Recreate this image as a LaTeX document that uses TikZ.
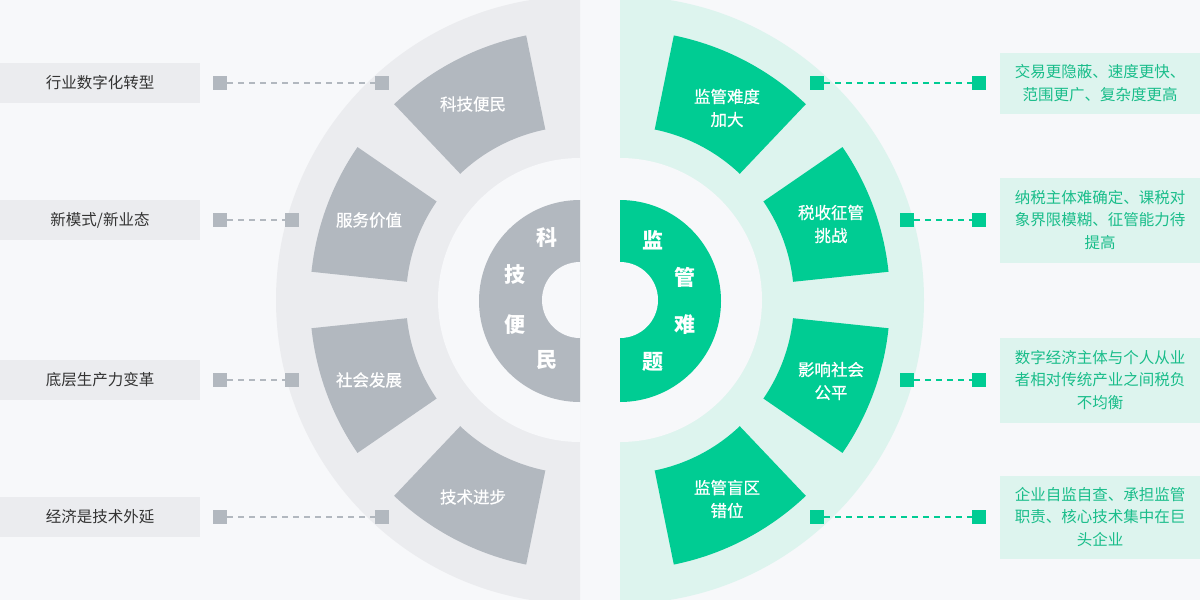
\documentclass[tikz,border=0pt]{standalone}
\usepackage{fontspec}
\setmainfont{Noto Sans CJK SC}
\newfontfamily\medfont[FakeBold=0.7]{Noto Sans CJK SC}
\definecolor{bg}{HTML}{F7F8FA}
\definecolor{gdisc}{HTML}{EBECEF}
\definecolor{gseg}{HTML}{B2B8BF}
\definecolor{grn}{HTML}{00CC93}
\definecolor{lgrn}{HTML}{DDF4EE}
\definecolor{gtext}{HTML}{333333}
\definecolor{gntext}{HTML}{19BD8A}
\newcommand{\annsec}[4]{% style, center, a1, a2 (tikz angles, y flipped)
  \fill[#1, shift={#2}] (#3:270) arc[start angle=#3, end angle=#4, radius=270]
     -- (#4:174) arc[start angle=#4, end angle=#3, radius=174] -- cycle;}
\begin{document}
\begin{tikzpicture}[x=1pt,y=-1pt,
  segtext/.style={text=white, font=\medfont\fontsize{16.5}{23}\selectfont, align=center, inner sep=0pt},
  bigchar/.style={text=white, font=\fontsize{21}{21}\selectfont\bfseries, inner sep=0pt},
  lbox/.style={fill=gdisc, text=gtext, minimum width=200pt, minimum height=40pt, inner sep=0pt, font=\fontsize{15.5}{20}\selectfont},
  rbox/.style={fill=lgrn, text=gntext, minimum width=200pt, inner sep=0pt, font=\fontsize{15.5}{22.5}\selectfont, align=center},
  gsq/.style={fill=gseg, minimum size=14pt, inner sep=0pt},
  gnsq/.style={fill=grn, minimum size=14pt, inner sep=0pt},
  gdash/.style={draw=gseg, line width=2pt, dash pattern=on 6pt off 5pt},
  gndash/.style={draw=grn, line width=2pt, dash pattern=on 6pt off 5pt}]
\useasboundingbox (0,0) rectangle (1200,600);
\clip (0,0) rectangle (1200,600);
\fill[bg] (0,0) rectangle (1200,600);
% left half discs
\fill[gdisc] (580,-4) arc[start angle=-90, end angle=-270, radius=304] -- cycle;
\annsec{gseg}{(580,300)}{-101.5}{-133.5}
\annsec{gseg}{(580,300)}{-145.5}{-174}
\annsec{gseg}{(580,300)}{-186}{-214.5}
\annsec{gseg}{(580,300)}{-226.5}{-258.5}
\fill[bg] (580,158) arc[start angle=-90, end angle=-270, radius=142] -- cycle;
\fill[gseg] (580,200) arc[start angle=-90, end angle=-270, radius=101] -- cycle;
\fill[bg] (580,262) arc[start angle=-90, end angle=-270, radius=38] -- cycle;
% right half discs
\fill[lgrn] (620,-4) arc[start angle=-90, end angle=90, radius=304] -- cycle;
\annsec{grn}{(620,300)}{-46.5}{-78.5}
\annsec{grn}{(620,300)}{-6}{-34.5}
\annsec{grn}{(620,300)}{6}{34.5}
\annsec{grn}{(620,300)}{46.5}{78.5}
\fill[bg] (620,158) arc[start angle=-90, end angle=90, radius=142] -- cycle;
\fill[grn] (620,200) arc[start angle=-90, end angle=90, radius=101] -- cycle;
\fill[bg] (620,262) arc[start angle=-90, end angle=90, radius=38] -- cycle;
% segment labels
\node[segtext] (s1) at (473,104) {科技便民};
\node[segtext] (s2) at (369,220) {服务价值};
\node[segtext] (s3) at (369,380) {社会发展};
\node[segtext] (s4) at (473,497) {技术进步};
\node[segtext] (t1) at (727,108) {监管难度\\加大};
\node[segtext] (t2) at (831,224) {税收征管\\挑战};
\node[segtext] (t3) at (831,381) {影响社会\\公平};
\node[segtext] (t4) at (727,499) {监管盲区\\错位};
% inner characters
\node[bigchar] (k1) at (547,238) {科};
\node[bigchar] (k2) at (515,275) {技};
\node[bigchar] (k3) at (515,325) {便};
\node[bigchar] (k4) at (547,360) {民};
\node[bigchar] (j1) at (653,240) {监};
\node[bigchar] (j2) at (685,277) {管};
\node[bigchar] (j3) at (685,325) {难};
\node[bigchar] (j4) at (653,362) {题};
% left boxes
\node[lbox] (L1) at (100,83) {行业数字化转型};
\node[lbox] (L2) at (100,220) {新模式/新业态};
\node[lbox] (L3) at (100,380) {底层生产力变革};
\node[lbox] (L4) at (100,517) {经济是技术外延};
% left connectors
\node[gsq] (a1) at (220,83) {};  \node[gsq] (b1) at (382,83) {};
\node[gsq] (a2) at (220,220) {}; \node[gsq] (b2) at (292,220) {};
\node[gsq] (a3) at (220,380) {}; \node[gsq] (b3) at (292,380) {};
\node[gsq] (a4) at (220,517) {}; \node[gsq] (b4) at (382,517) {};
\draw[gdash] (a1) -- (b1);
\draw[gdash] (a2) -- (b2);
\draw[gdash] (a3) -- (b3);
\draw[gdash] (a4) -- (b4);
% right boxes
\node[rbox, minimum height=61pt] (R1) at (1100,83) {交易更隐蔽、速度更快、\\范围更广、复杂度更高};
\node[rbox, minimum height=85pt] (R2) at (1100,220) {纳税主体难确定、课税对\\象界限模糊、征管能力待\\提高};
\node[rbox, minimum height=85pt] (R3) at (1100,380) {数字经济主体与个人从业\\者相对传统产业之间税负\\不均衡};
\node[rbox, minimum height=83pt] (R4) at (1100,517) {企业自监自查、承担监管\\职责、核心技术集中在巨\\头企业};
% right connectors
\node[gnsq] (c1) at (817,83) {};  \node[gnsq] (d1) at (979,83) {};
\node[gnsq] (c2) at (907,220) {}; \node[gnsq] (d2) at (979,220) {};
\node[gnsq] (c3) at (907,380) {}; \node[gnsq] (d3) at (979,380) {};
\node[gnsq] (c4) at (817,517) {}; \node[gnsq] (d4) at (979,517) {};
\draw[gndash] (c1) -- (d1);
\draw[gndash] (c2) -- (d2);
\draw[gndash] (c3) -- (d3);
\draw[gndash] (c4) -- (d4);
\end{tikzpicture}
\end{document}
